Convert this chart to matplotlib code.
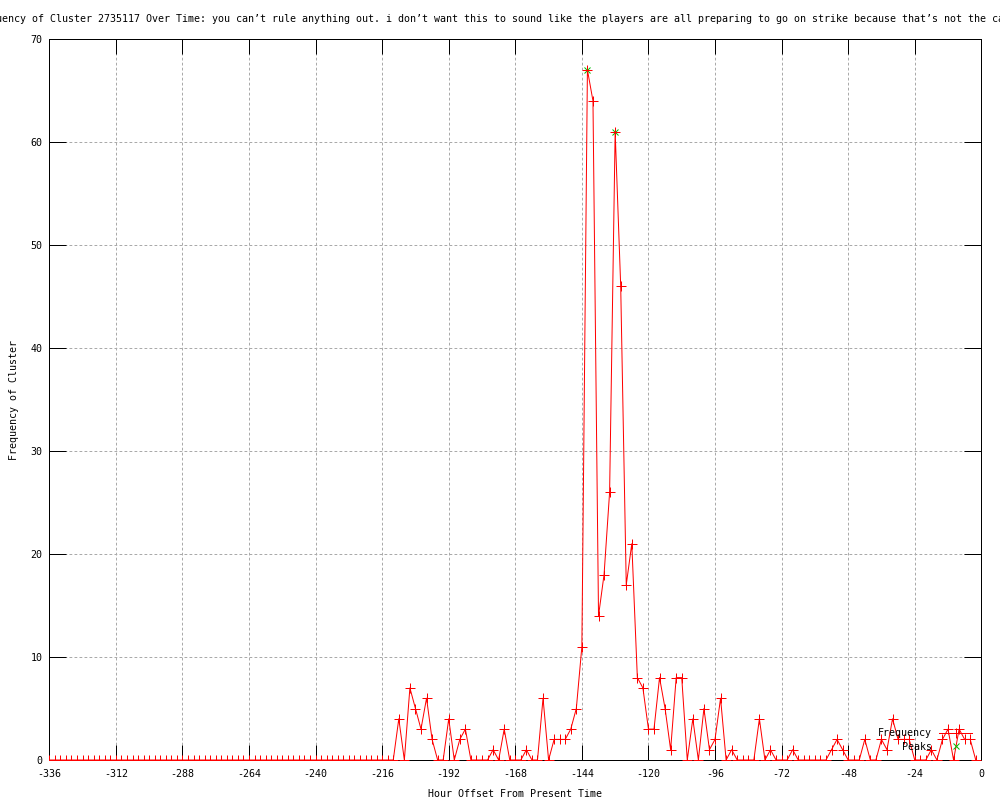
import numpy as np
import matplotlib
matplotlib.use("Agg")
import matplotlib.pyplot as plt


# ==========================================================
# Data (one value every 2 hours)
# ==========================================================

hours = list(range(-336, 0, 2))

freq = (
    [0] * 63                                           # -336 .. -212
    + [4, 0, 7, 5, 3, 6, 2, 0, 0, 4,                   # -210 .. -192
       0, 2, 3, 0, 0, 0, 0, 1, 0, 3,                   # -190 .. -172
       0, 0, 0, 1, 0, 0, 6, 0, 2, 2,                   # -170 .. -152
       2, 3, 5, 11, 67, 64, 14, 18, 26, 61,            # -150 .. -132
       46, 17, 21, 8, 7, 3, 3, 8, 5, 1,                # -130 .. -112
       8, 8, 0, 4, 0, 5, 1, 2, 6, 0,                   # -110 .. -92
       1, 0, 0, 0, 0, 4, 0, 1, 0, 0,                   # -90 .. -72
       0, 1, 0, 0, 0, 0, 0, 0, 1, 2,                   # -70 .. -52
       1, 0, 0, 0, 2, 0, 0, 2, 1, 4,                   # -50 .. -32
       2, 2, 2, 0, 0, 0, 1, 0, 2, 3,                   # -30 .. -12
       0, 3, 2, 2, 0]                                  # -10 .. -2
)

peak_hours = [-142, -132]
peak_vals = [67, 61]

title = ("Frequency of Cluster 2735117 Over Time: you can\u2019t rule anything out. "
         "i don\u2019t want this to sound like the players are all preparing to go "
         "on strike because that\u2019s not the case.")


# ==========================================================
# Style (gnuplot-ish)
# ==========================================================

plt.rcParams["font.family"] = ["DejaVu Sans Mono"]
plt.rcParams["font.size"] = 7.2
plt.rcParams["axes.unicode_minus"] = False
plt.rcParams["lines.scale_dashes"] = False

px = 0.72  # one pixel in points at dpi 100

fig = plt.figure(figsize=(10, 8), dpi=100)
ax = fig.add_axes([0.0493, 0.05, 0.932, 0.90125])

ax.plot(hours, freq, color="red", lw=px, marker="+", ms=6.5, mew=px,
        label="Frequency", zorder=3)
ax.plot(peak_hours, peak_vals, ls="none", color="#00c000", marker="x",
        ms=5, mew=px, label="Peaks", zorder=2)

ax.set_xlim(-336, 0)
ax.set_ylim(0, 70)
ax.set_xticks(np.arange(-336, 1, 24))
ax.set_yticks(np.arange(0, 71, 10))

ax.grid(True, color="#aaaaaa", lw=px, ls=(0, (2.0, 1.6)))
ax.set_axisbelow(True)

for s in ax.spines.values():
    s.set_linewidth(px)
ax.tick_params(axis="x", direction="in", length=11, width=px,
               top=True, pad=6.5)
ax.tick_params(axis="y", direction="in", length=12, width=px,
               right=True, pad=5)

ax.set_xlabel("Hour Offset From Present Time", labelpad=7.5)
ax.set_ylabel("Frequency of Cluster", labelpad=8)

# title is wider than the canvas, as in the reference
fig.text(0.497, 0.976, title, ha="center", va="center")

ax.legend(loc="upper right", bbox_to_anchor=(0.972, 1 - 728 / 800),
          bbox_transform=fig.transFigure, frameon=False, markerfirst=False,
          numpoints=1, handlelength=3.3, handletextpad=0.7, labelspacing=0.35,
          borderpad=0, borderaxespad=0)

fig.savefig("out.png", dpi=100)
